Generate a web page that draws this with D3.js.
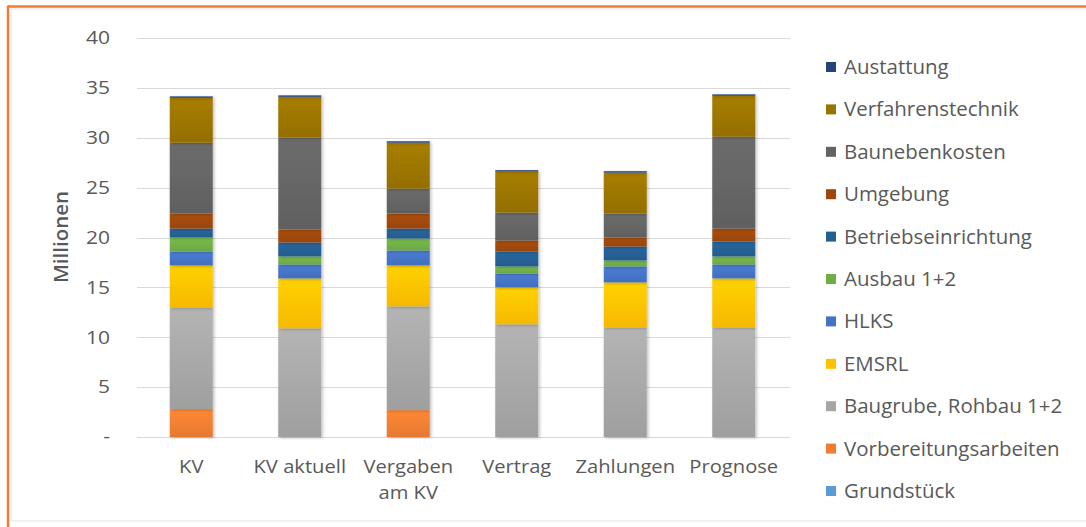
<!DOCTYPE html>
<html><head><meta charset="utf-8">
<script src="https://cdn.jsdelivr.net/npm/d3@7"></script>
<style>
html,body{margin:0;padding:0;background:#fff;}
svg{display:block;}
text{font-family:"Open Sans","Noto Sans",sans-serif;fill:#595959;}
</style></head>
<body>
<svg id="chart" width="1086" height="527"></svg>
<script>
const categories = ["KV", "KV aktuell", "Vergaben am KV", "Vertrag", "Zahlungen", "Prognose"];
const categoryLines = [["KV"], ["KV aktuell"], ["Vergaben", "am KV"], ["Vertrag"], ["Zahlungen"], ["Prognose"]];
const grundstueck = [0, 0, 0, 0, 0, 0];
const vorbereitungsarbeiten = [2.8, 0, 2.7, 0, 0, 0];
const baugrube = [10.2, 10.9, 10.4, 11.3, 11.0, 11.0];
const emsrl = [4.2, 5.0, 4.1, 3.7, 4.5, 4.9];
const hlks = [1.4, 1.4, 1.5, 1.4, 1.6, 1.4];
const ausbau = [1.4, 0.8, 1.2, 0.7, 0.6, 0.8];
const betriebseinrichtung = [0.9, 1.4, 1.0, 1.5, 1.4, 1.5];
const umgebung = [1.5, 1.3, 1.5, 1.1, 0.9, 1.3];
const baunebenkosten = [7.1, 9.2, 2.5, 2.8, 2.4, 9.2];
const verfahrenstechnik = [4.5, 4.1, 4.6, 4.1, 4.1, 4.1];
const austattung = [0.15, 0.15, 0.15, 0.15, 0.15, 0.15];
const seriesNames = ["Grundstück", "Vorbereitungsarbeiten", "Baugrube, Rohbau 1+2", "EMSRL", "HLKS", "Ausbau 1+2", "Betriebseinrichtung", "Umgebung", "Baunebenkosten", "Verfahrenstechnik", "Austattung"];
const seriesValues = [grundstueck, vorbereitungsarbeiten, baugrube, emsrl, hlks, ausbau, betriebseinrichtung, umgebung, baunebenkosten, verfahrenstechnik, austattung];
const seriesColors = ["#5b9bd5", "#ed7d31", "#a5a5a5", "#ffc000", "#4472c4", "#70ad47", "#255e91", "#9e480e", "#636363", "#997300", "#264478"];
const yTicks = [0, 5, 10, 15, 20, 25, 30, 35, 40];
const yTickLabels = ["-", "5", "10", "15", "20", "25", "30", "35", "40"];
const yTitle = "Millionen";

const svg = d3.select("#chart");
// frame
svg.append("rect").attr("x", 11).attr("y", 9).attr("width", 1090).attr("height", 512)
  .attr("fill", "#fff").attr("stroke", "#e3e3e3").attr("stroke-width", 1);
svg.append("line").attr("x1", 8).attr("x2", 1086).attr("y1", 6.5).attr("y2", 6.5)
  .attr("stroke", "#ed7d31").attr("stroke-width", 2.5);
svg.append("line").attr("x1", 8).attr("x2", 8).attr("y1", 5.5).attr("y2", 527)
  .attr("stroke", "#ed7d31").attr("stroke-width", 2.5);

const x = d3.scaleBand().domain(categories).range([137, 788]).paddingInner(0.6).paddingOuter(0.3);
const y = d3.scaleLinear().domain([0, 40]).range([437, 38]);

// gridlines
svg.append("g").selectAll("line").data(yTicks).join("line")
  .attr("x1", 137).attr("x2", 790)
  .attr("y1", d => Math.round(y(d)) + 0.5).attr("y2", d => Math.round(y(d)) + 0.5)
  .attr("stroke", "#d9d9d9").attr("stroke-width", 1.2);

// y labels (slightly stretched horizontally like the reference)
svg.append("g").selectAll("text").data(yTicks).join("text")
  .attr("transform", d => `translate(110,${y(d)}) scale(1.2,1)`)
  .attr("dy", "0.36em")
  .attr("text-anchor", "end").attr("font-size", 17.5)
  .text((d, i) => yTickLabels[i]);

svg.append("text").attr("transform", "translate(68,237) rotate(-90)")
  .attr("text-anchor", "middle").attr("font-size", 20.5).attr("font-weight", 600).attr("fill", "#404040")
  .text(yTitle);

// gradients
const defs = svg.append("defs");
seriesColors.forEach((c, i) => {
  const g = defs.append("linearGradient").attr("id", "g" + i).attr("x1", 0).attr("x2", 0).attr("y1", 0).attr("y2", 1);
  g.append("stop").attr("offset", "0%").attr("stop-color", d3.color(c).brighter(0.25));
  g.append("stop").attr("offset", "100%").attr("stop-color", d3.color(c).darker(0.1));
});
const f = defs.append("filter").attr("id", "sh").attr("x", "-20%").attr("y", "-5%").attr("width", "140%").attr("height", "110%");
f.append("feDropShadow").attr("dx", 1.5).attr("dy", 1).attr("stdDeviation", 1.5).attr("flood-color", "#000").attr("flood-opacity", 0.25);

const table = categories.map((c, j) => {
  const o = {cat: c};
  seriesNames.forEach((n, i) => o[n] = seriesValues[i][j]);
  return o;
});
const stack = d3.stack().keys(seriesNames)(table);

const bw = 43;
const bars = svg.append("g");
stack.forEach((layer, i) => {
  bars.append("g").attr("fill", `url(#g${i})`).attr("filter", "url(#sh)")
    .selectAll("rect").data(layer.filter(d => d[1] - d[0] > 0)).join("rect")
    .attr("x", d => x(d.data.cat) + x.bandwidth() / 2 - bw / 2)
    .attr("width", bw)
    .attr("y", d => y(d[1]))
    .attr("height", d => y(d[0]) - y(d[1]));
});

// x labels
const xl = svg.append("g");
categories.forEach((c, j) => {
  const cx = x(c) + x.bandwidth() / 2;
  categoryLines[j].forEach((ln, k) => {
    xl.append("text").attr("transform", `translate(${cx},${473 + k * 25.5}) scale(1.12,1)`)
      .attr("text-anchor", "middle").attr("font-size", 18).text(ln);
  });
});

// legend
const legendOrder = seriesNames.map((n, i) => i).reverse();
const lg = svg.append("g");
legendOrder.forEach((i, k) => {
  const cy = 67 + k * 42.4;
  lg.append("rect").attr("x", 826).attr("y", cy - 5).attr("width", 10).attr("height", 10).attr("fill", seriesColors[i]);
  lg.append("text").attr("transform", `translate(844,${cy}) scale(1.05,1)`).attr("dy", "0.36em")
    .attr("font-size", 19.5).text(seriesNames[i]);
});
</script>
</body></html>
